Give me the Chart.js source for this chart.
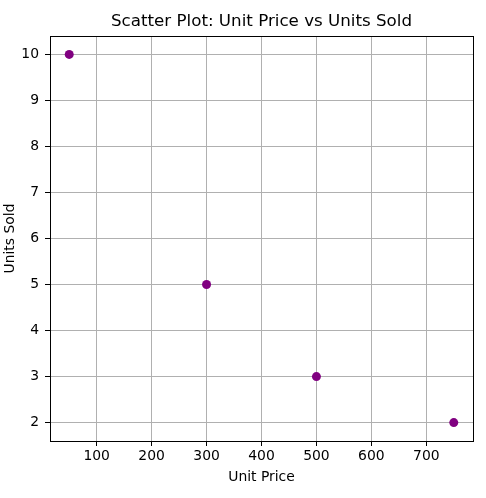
<!DOCTYPE html>
<html><head><meta charset="utf-8">
<script src="https://cdn.jsdelivr.net/npm/chart.js@4"></script>
<style>html,body{margin:0;padding:0;background:#fff}#wrap{width:486px;height:498px}</style>
</head><body><div id="wrap"><canvas id="c" width="486" height="498"></canvas></div>
<script>
const unitPrice = [50, 300, 500, 750];
const unitsSold = [10, 5, 3, 2];
const xTicks = [100, 200, 300, 400, 500, 600, 700];
const yTicks = [2, 3, 4, 5, 6, 7, 8, 9, 10];
const chartTitle = 'Scatter Plot: Unit Price vs Units Sold';

const points = unitPrice.map((x, i) => ({x: x, y: unitsSold[i]}));
const font = 'DejaVu Sans';

const boxPlugin = {
  id: 'box',
  afterDraw(chart) {
    const a = chart.chartArea, ctx = chart.ctx;
    ctx.save();
    ctx.strokeStyle = '#000';
    ctx.lineWidth = 1;
    ctx.strokeRect(Math.round(a.left) + 0.5, Math.round(a.top) + 0.5, Math.round(a.right - a.left), Math.round(a.bottom - a.top));
    ctx.fillStyle = '#000';
    ctx.font = '16.7px "' + font + '"';
    ctx.textAlign = 'center';
    ctx.textBaseline = 'middle';
    ctx.fillText(chartTitle, (a.left + a.right) / 2, 22);
    ctx.restore();
  }
};

new Chart(document.getElementById('c'), {
  type: 'scatter',
  data: { datasets: [{ data: points, backgroundColor: '#800080', borderColor: '#800080', pointRadius: 4.5, pointHoverRadius: 4.5, borderWidth: 0 }] },
  options: {
    responsive: false, animation: false, devicePixelRatio: 1,
    layout: { padding: { right: 13, left: 2, top: 36, bottom: 0 } },
    plugins: { legend: { display: false }, tooltip: { enabled: false }, title: { display: false } },
    scales: {
      x: {
        type: 'linear', min: 15, max: 785, z: 1,
        afterBuildTicks(s) { s.ticks = xTicks.map(v => ({value: v})); },
        afterFit(s) { s.height = 57; },
        grid: { color: '#b0b0b0', lineWidth: 1, tickLength: 5, tickColor: '#000', drawTicks: true },
        border: { display: false },
        ticks: { color: '#000', font: { family: font, size: 13.9 }, padding: 2, maxRotation: 0 },
        title: { display: true, text: 'Unit Price', color: '#000', font: { family: font, size: 13.9 }, padding: { top: 2, bottom: 12 } }
      },
      y: {
        type: 'linear', min: 1.6, max: 10.4, z: 1,
        afterBuildTicks(s) { s.ticks = yTicks.map(v => ({value: v})); },
        afterFit(s) { s.width = 48; },
        grid: { color: '#b0b0b0', lineWidth: 1, tickLength: 5, tickColor: '#000', drawTicks: true },
        border: { display: false },
        ticks: { color: '#000', font: { family: font, size: 13.9 }, padding: 6 },
        title: { display: true, text: 'Units Sold', color: '#000', font: { family: font, size: 13.9 }, padding: { top: 0, bottom: 2 } }
      }
    }
  },
  plugins: [boxPlugin]
});
</script></body></html>
